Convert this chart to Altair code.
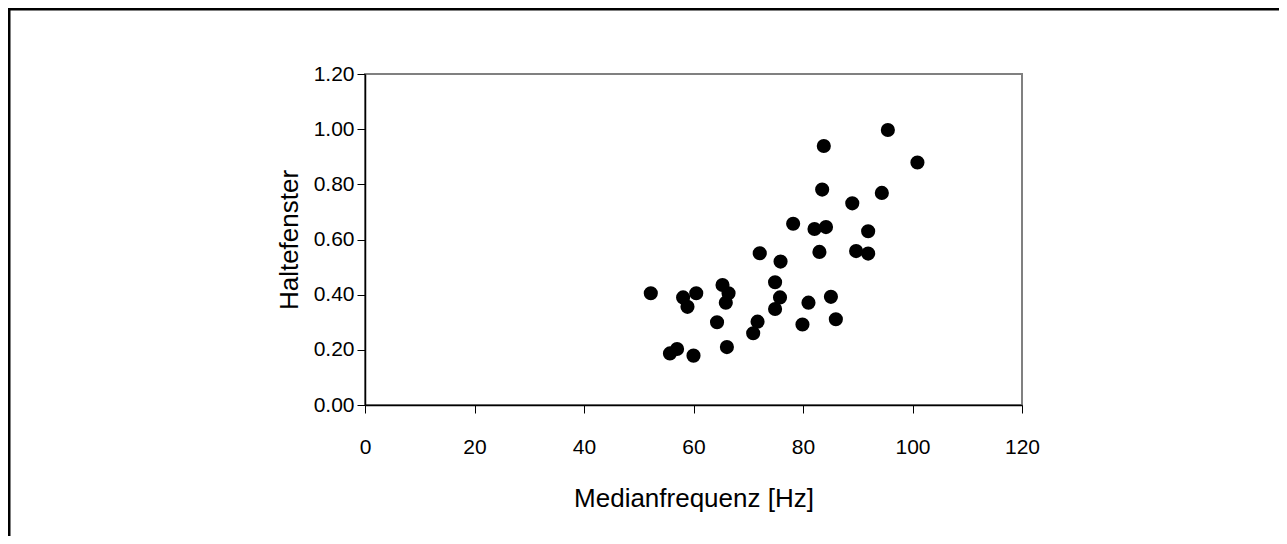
import altair as alt
import pandas as pd

medianfrequenz = [52.2, 55.7, 57.0, 60.0, 58.1, 60.5, 58.9, 64.3, 65.3, 66.4, 65.9, 66.1,
                  70.9, 71.7, 72.1, 74.9, 75.9, 75.8, 74.9, 78.2, 79.9, 81.0, 82.1, 84.2,
                  83.0, 83.5, 85.1, 86.0, 89.0, 91.9, 89.7, 91.9, 94.4, 100.9, 83.8, 95.5]
haltefenster = [0.405, 0.187, 0.203, 0.179, 0.390, 0.405, 0.356, 0.300, 0.435, 0.405, 0.371, 0.210,
                0.260, 0.302, 0.550, 0.445, 0.520, 0.390, 0.348, 0.657, 0.292, 0.371, 0.638, 0.645,
                0.555, 0.781, 0.392, 0.311, 0.731, 0.630, 0.558, 0.549, 0.769, 0.879, 0.939, 0.997]
x_ticks = [0, 20, 40, 60, 80, 100, 120]
y_ticks = [0.0, 0.2, 0.4, 0.6, 0.8, 1.0, 1.2]

df = pd.DataFrame({"Medianfrequenz": medianfrequenz, "Haltefenster": haltefenster})

FONT = "Liberation Sans"

points = alt.Chart(df).mark_circle(size=200, color="black", opacity=1).encode(
    x=alt.X("Medianfrequenz:Q",
            scale=alt.Scale(domain=[0, 120], nice=False),
            axis=alt.Axis(values=x_ticks, title="Medianfrequenz [Hz]", format="d",
                          labelFlush=False, titlePadding=28, labelPadding=23)),
    y=alt.Y("Haltefenster:Q",
            scale=alt.Scale(domain=[0, 1.2], nice=False),
            axis=alt.Axis(values=y_ticks, title="Haltefenster", format=".2f",
                          labelFlush=False, titlePadding=11, labelPadding=3)),
)

one = pd.DataFrame({"k": [0]})
frame_top = alt.Chart(one).mark_rule(color="black", strokeWidth=2.5, clip=False).encode(
    x=alt.value(-357), x2=alt.value(930), y=alt.value(-64.75),
)
frame_left = alt.Chart(one).mark_rule(color="black", strokeWidth=2.5, clip=False).encode(
    x=alt.value(-355.75), y=alt.value(-66), y2=alt.value(480),
)

chart = alt.layer(frame_top, frame_left, points).properties(
    width=657, height=331,
    autosize=alt.AutoSizeParams(type="none"),
    padding={"left": 357, "top": 66, "right": 257, "bottom": 131},
    background="white",
).configure_view(
    stroke="#808080", strokeWidth=2
).configure_axis(
    domainColor="black", domainWidth=1.5,
    tickColor="black", tickSize=8, tickWidth=1,
    grid=False,
    labelFont=FONT, labelFontSize=21, labelColor="black",
    titleFont=FONT, titleFontSize=26, titleColor="black", titleFontWeight="normal",
)

chart.save("out.html", embed_options={"renderer": "svg", "actions": False})
